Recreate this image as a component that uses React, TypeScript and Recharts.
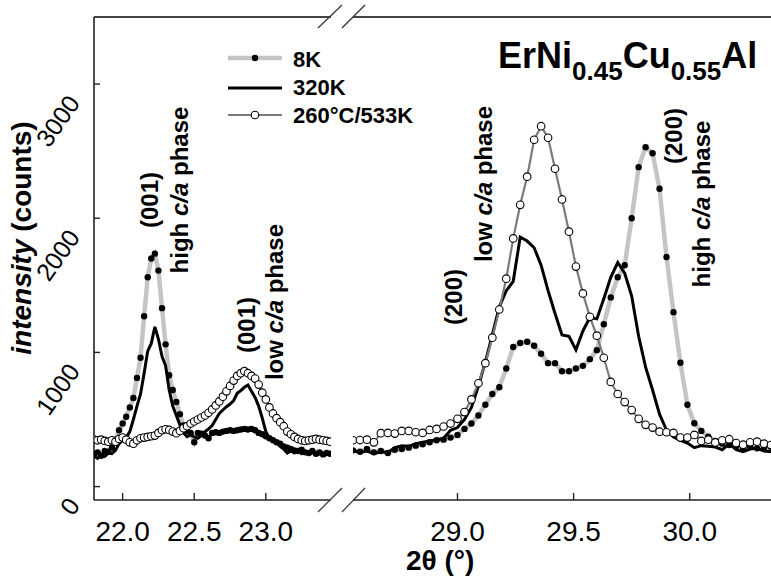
import { LineChart, Line, XAxis, YAxis, ReferenceLine } from 'recharts'

const FONT = 'Liberation Sans, Arial, Helvetica, sans-serif'

// left panel, 2θ around the (001) reflections
const leftAngles = [
  21.8, 21.825, 21.85, 21.875, 21.9, 21.925, 21.95, 21.975, 22.0, 22.025, 22.05, 22.075,
  22.1, 22.125, 22.15, 22.175, 22.2, 22.225, 22.25, 22.275, 22.3, 22.325, 22.35, 22.375,
  22.4, 22.425, 22.45, 22.475, 22.5, 22.525, 22.55, 22.575, 22.6, 22.625, 22.65, 22.675,
  22.7, 22.725, 22.75, 22.775, 22.8, 22.825, 22.85, 22.875, 22.9, 22.925, 22.95, 22.975,
  23.0, 23.025, 23.05, 23.075, 23.1, 23.125, 23.15, 23.175, 23.2, 23.225, 23.25, 23.275,
  23.3, 23.325, 23.35, 23.375, 23.4, 23.425, 23.45,
]
const left8K = [
  240, 255, 230, 265, 260, 290, 350, 420, 470, 520, 590, 660,
  810, 960, 1270, 1560, 1700, 1736, 1610, 1330, 1060, 830, 720, 630,
  540, 455, 415, 400, 330, 400, 395, 380, 360, 400, 405, 400,
  410, 415, 420, 415, 420, 425, 430, 425, 430, 420, 400, 390,
  375, 360, 345, 330, 320, 300, 290, 280, 270, 265, 275, 255,
  250, 265, 245, 255, 240, 250, 245,
]
const left320K = [
  225, 210, 240, 225, 250, 245, 270, 320, 345, 365, 410, 500,
  600, 690, 844, 1010, 1067, 1190, 1100, 970, 900, 720, 600, 530,
  460, 400, 372, 385, 370, 360, 380, 409, 430, 455, 500, 545,
  571, 595, 615, 640, 695, 715, 740, 757, 710, 665, 600, 510,
  409, 360, 340, 330, 300, 280, 250, 265, 250, 270, 245, 260,
  240, 255, 235, 245, 230, 240, 235,
]
const left533K = [
  350, 345, 350, 340, 335, 345, 335, 355, 365, 350, 330, 320,
  345, 360, 365, 370, 375, 380, 400, 420, 427, 422, 410, 398,
  415, 435, 450, 470, 485, 500, 515, 530, 550, 575, 605, 635,
  670, 710, 750, 790, 825, 845, 860, 845, 825, 805, 760, 700,
  650, 590, 545, 510, 480, 450, 410, 390, 370, 355, 345, 340,
  345, 350, 355, 350, 345, 340, 335,
]

// right panel, 2θ around the (200) reflections
const rightAngles = [
  28.55, 28.58, 28.61, 28.64, 28.67, 28.7, 28.73, 28.76, 28.79, 28.82,
  28.85, 28.88, 28.91, 28.94, 28.97, 29.0, 29.03, 29.06, 29.09, 29.12,
  29.15, 29.18, 29.21, 29.24, 29.27, 29.3, 29.33, 29.36, 29.39, 29.42,
  29.45, 29.48, 29.51, 29.54, 29.57, 29.6, 29.63, 29.66, 29.69, 29.72,
  29.75, 29.78, 29.81, 29.84, 29.87, 29.9, 29.93, 29.96, 29.99, 30.02,
  30.05, 30.08, 30.11, 30.14, 30.17, 30.2, 30.23, 30.26, 30.29, 30.32,
  30.35,
]
const right8K = [
  270, 260, 280, 255, 265, 250, 275, 280, 290, 305,
  315, 330, 345, 350, 365, 385, 430, 470, 530, 610,
  690, 740, 880, 1040, 1070, 1080, 1050, 990, 920, 920,
  860, 860, 880, 900, 950, 1017, 1210, 1410, 1560, 1650,
  2000, 2381, 2530, 2485, 2220, 1711, 1300, 923, 610, 472,
  415, 372, 340, 320, 310, 300, 290, 300, 285, 290,
  295,
]
const right320K = [
  270, 255, 265, 245, 260, 255, 290, 305, 300, 320,
  330, 340, 350, 360, 420, 440, 500, 590, 750, 930,
  1130, 1340, 1460, 1530, 1860, 1830, 1780, 1650, 1460, 1290,
  1130, 1120, 1020, 1160, 1260, 1250, 1400, 1560, 1670, 1590,
  1420, 1120, 890, 720, 540, 420, 370, 345, 325, 290,
  305, 300, 295, 275, 320, 275, 260, 280, 285, 265,
  260,
]
const right533K = [
  345, 347, 350, 330, 398, 400, 395, 415, 415, 405,
  400, 422, 430, 448, 470, 505, 555, 650, 770, 920,
  1110, 1320, 1550, 1850, 2100, 2310, 2585, 2686, 2600, 2369,
  2140, 1900, 1640, 1440, 1265, 1125, 960, 780, 690, 630,
  570, 505, 460, 440, 409, 405, 400, 365, 365, 385,
  340, 350, 328, 345, 353, 325, 312, 330, 335, 320,
  310,
]

const yTicks = [0, 1000, 2000, 3000]
const leftTicks = [22.0, 22.5, 23.0]
const rightTicks = [29.0, 29.5, 30.0]

const leftRows = leftAngles.map((angle, i) => ({
  angle,
  k8: left8K[i],
  k320: left320K[i],
  k533: left533K[i],
}))
const rightRows = rightAngles.map((angle, i) => ({
  angle,
  k8: right8K[i],
  k320: right320K[i],
  k533: right533K[i],
}))

const colors = {
  k8: '#c4c4c4',
  k320: '#000',
  k533: '#7a7a7a',
  axis: '#222',
  frame: '#444',
}

function YTick({ x, y, payload }: any) {
  const ax = x - 17
  const ay = y + 19
  return (
    <text
      x={ax}
      y={ay}
      textAnchor="end"
      transform={`rotate(-55 ${ax} ${ay})`}
      fontSize={25}
      fontFamily={FONT}
      fill="#000"
    >
      {payload.value}
    </text>
  )
}

function XTick({ x, y, payload }: any) {
  return (
    <text x={x} y={y + 46} textAnchor="middle" fontSize={28} fontFamily={FONT} fill="#000">
      {Number(payload.value).toFixed(1)}
    </text>
  )
}

function series() {
  return [
    <Line
      key="k8"
      dataKey="k8"
      type="linear"
      stroke={colors.k8}
      strokeWidth={4.5}
      dot={{ r: 3.2, fill: '#000', stroke: '#000', strokeWidth: 0 }}
      activeDot={false}
      isAnimationActive={false}
    />,
    <Line
      key="k320"
      dataKey="k320"
      type="linear"
      stroke={colors.k320}
      strokeWidth={3}
      dot={false}
      activeDot={false}
      isAnimationActive={false}
    />,
    <Line
      key="k533"
      dataKey="k533"
      type="linear"
      stroke={colors.k533}
      strokeWidth={2.2}
      dot={{ r: 3.8, fill: '#fff', stroke: '#000', strokeWidth: 1.1 }}
      activeDot={false}
      isAnimationActive={false}
    />,
  ]
}

function Rotated({ x, y, children }: { x: number; y: number; children: any }) {
  return (
    <text
      x={x}
      y={y}
      textAnchor="middle"
      transform={`rotate(-90 ${x} ${y})`}
      fontSize={24}
      fontWeight="bold"
      fontFamily={FONT}
      fill="#000"
    >
      {children}
    </text>
  )
}

function phase(word: string) {
  return [
    <tspan key="a">{word} </tspan>,
    <tspan key="b" fontStyle="italic">c/a</tspan>,
    <tspan key="c"> phase</tspan>,
  ]
}

export default function App() {
  return (
    <div style={{ position: 'absolute', left: 0, top: 0, width: 771, height: 577, background: '#fff' }}>
      <div style={{ position: 'absolute', left: 0, top: 0 }}>
        <LineChart width={341} height={577} data={leftRows} margin={{ top: 17, right: 10, bottom: 0, left: 0 }}>
          <XAxis
            dataKey="angle"
            type="number"
            domain={[21.8, 23.455]}
            ticks={leftTicks}
            allowDataOverflow
            height={77}
            tickSize={-7}
            tick={<XTick />}
            axisLine={{ stroke: colors.axis, strokeWidth: 1.6 }}
            tickLine={{ stroke: colors.axis, strokeWidth: 1.4 }}
          />
          <YAxis
            type="number"
            domain={[-100, 3500]}
            ticks={yTicks}
            allowDataOverflow
            width={94}
            tickSize={-6}
            tick={<YTick />}
            axisLine={{ stroke: colors.axis, strokeWidth: 1.6 }}
            tickLine={{ stroke: colors.axis, strokeWidth: 1.4 }}
          />
          <ReferenceLine y={3500} stroke={colors.frame} strokeWidth={2} />
          {series()}
        </LineChart>
      </div>
      <div style={{ position: 'absolute', left: 343, top: 0 }}>
        <LineChart width={428} height={577} data={rightRows} margin={{ top: 17, right: 0, bottom: 0, left: 10 }}>
          <XAxis
            dataKey="angle"
            type="number"
            domain={[28.55, 30.35]}
            ticks={rightTicks}
            allowDataOverflow
            height={77}
            tickSize={-7}
            tick={<XTick />}
            axisLine={{ stroke: colors.axis, strokeWidth: 1.6 }}
            tickLine={{ stroke: colors.axis, strokeWidth: 1.4 }}
          />
          <YAxis type="number" domain={[-100, 3500]} allowDataOverflow hide />
          <ReferenceLine y={3500} stroke={colors.frame} strokeWidth={2} />
          {series()}
        </LineChart>
      </div>
      <svg
        width={771}
        height={577}
        style={{ position: 'absolute', left: 0, top: 0, pointerEvents: 'none' }}
      >
        {/* axis break marks */}
        <g stroke="#333" strokeWidth={1.2}>
          <line x1={318} y1={28} x2={342} y2={5} />
          <line x1={342} y1={28} x2={365} y2={5} />
          <line x1={318} y1={512} x2={342} y2={488} />
          <line x1={342} y1={512} x2={365} y2={488} />
        </g>

        {/* legend */}
        <line x1={228} y1={58} x2={282} y2={58} stroke={colors.k8} strokeWidth={4.5} />
        <circle cx={255} cy={58} r={3.2} fill="#000" />
        <line x1={228} y1={88} x2={282} y2={88} stroke={colors.k320} strokeWidth={3} />
        <line x1={228} y1={115} x2={282} y2={115} stroke={colors.k533} strokeWidth={2.2} />
        <circle cx={255} cy={115} r={3.8} fill="#fff" stroke="#000" strokeWidth={1.1} />
        <g fontFamily={FONT} fontSize={22} fontWeight="bold" fill="#000">
          <text x={293} y={67}>8K</text>
          <text x={293} y={95}>320K</text>
          <text x={293} y={123}>260°C/533K</text>
        </g>

        {/* compound */}
        <text x={498} y={68} fontFamily={FONT} fontSize={36} fontWeight="bold" fill="#000">
          ErNi
          <tspan fontSize={26} dy={12}>0.45</tspan>
          <tspan dy={-12}>Cu</tspan>
          <tspan fontSize={26} dy={12}>0.55</tspan>
          <tspan dy={-12}>Al</tspan>
        </text>

        {/* peak labels */}
        <Rotated x={158} y={200}>(001)</Rotated>
        <Rotated x={188} y={190}>{phase('high')}</Rotated>
        <Rotated x={255} y={325}>(001)</Rotated>
        <Rotated x={283} y={302}>{phase('low')}</Rotated>
        <Rotated x={462} y={297}>(200)</Rotated>
        <Rotated x={492} y={184}>{phase('low')}</Rotated>
        <Rotated x={682} y={136}>(200)</Rotated>
        <Rotated x={710} y={204}>{phase('high')}</Rotated>

        {/* axis titles */}
        <text
          x={31}
          y={238}
          textAnchor="middle"
          transform="rotate(-90 31 238)"
          fontFamily={FONT}
          fontSize={28}
          fontWeight="bold"
          fill="#000"
        >
          <tspan fontStyle="italic">intensity</tspan> (counts)
        </text>
        <text x={406} y={570} fontFamily={FONT} fontSize={28} fontWeight="bold" fill="#000">
          2θ (°)
        </text>
      </svg>
    </div>
  )
}
